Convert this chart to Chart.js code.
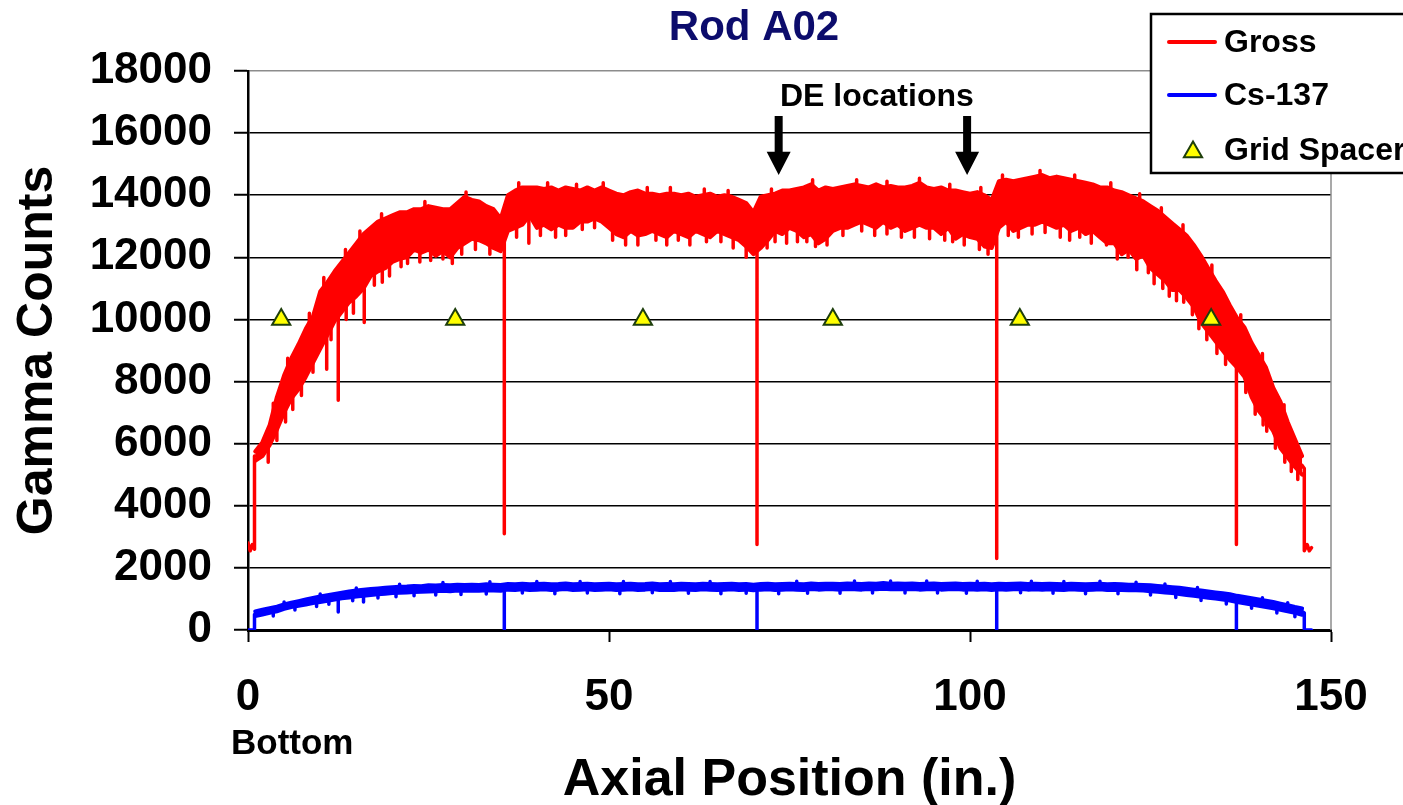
<!DOCTYPE html>
<html>
<head>
<meta charset="utf-8">
<title>Rod A02</title>
<script src="https://cdn.jsdelivr.net/npm/chart.js@4.4.1/dist/chart.umd.min.js"></script>
<style>
  html, body { margin: 0; padding: 0; background: #fff; }
  #wrap { position: relative; width: 1403px; height: 805px; }
</style>
</head>
<body>
<div id="wrap"><canvas id="rodChart"></canvas></div>
<script>
// envelopes are read once per inch, starting at 1 in.
const envStart = 1;

// Gross counts: upper and lower edge of the noisy band, one row per 10 in.
const grossHigh = [
  [5750, 6050, 6600, 7500, 8200, 8750, 9200, 9700, 10100, 10900],
  [11200, 11550, 11850, 12150, 12450, 12750, 12950, 13150, 13250, 13350],
  [13450, 13450, 13550, 13550, 13650, 13600, 13550, 13550, 13750, 13950],
  [13850, 13800, 13650, 13550, 13250, 14000, 14150, 14250, 14250, 14250],
  [14200, 14250, 14150, 14250, 14200, 14150, 14250, 14150, 14250, 14150],
  [14050, 14000, 14100, 14150, 14050, 14050, 14000, 14050, 14050, 14000],
  [14050, 13950, 14000, 14050, 13950, 14000, 13950, 13850, 13750, 13450],
  [13950, 14000, 14050, 14150, 14150, 14200, 14250, 14350, 14150, 14250],
  [14200, 14250, 14300, 14350, 14300, 14250, 14350, 14250, 14300, 14250],
  [14250, 14300, 14400, 14250, 14200, 14250, 14150, 14150, 14100, 14050],
  [14100, 14000, 13850, 14450, 14500, 14450, 14500, 14550, 14600, 14650],
  [14550, 14600, 14550, 14500, 14450, 14400, 14350, 14250, 14250, 14150],
  [14100, 14000, 13900, 13800, 13650, 13500, 13300, 13100, 12900, 12700],
  [12400, 12050, 11650, 11250, 10900, 10450, 10050, 9750, 9250, 8850],
  [8450, 7800, 7350, 6700, 6150, 5600]
];
const grossLow = [
  [5450, 5600, 5950, 6450, 7000, 7450, 7750, 8150, 8600, 9050],
  [9500, 9950, 10250, 10550, 10750, 11000, 11400, 11550, 11650, 11850],
  [11950, 12000, 12250, 12150, 12250, 12050, 12200, 12000, 12300, 12450],
  [12600, 12550, 12450, 12300, 12200, 12850, 12950, 13050, 13350, 12950],
  [13050, 12900, 13050, 12950, 12950, 13150, 13150, 13250, 13150, 12950],
  [12750, 12650, 12850, 12700, 12750, 12850, 12750, 12650, 12850, 12750],
  [12650, 12850, 12750, 12650, 12850, 12750, 12650, 12550, 12350, 12100],
  [12300, 12550, 12850, 12750, 12950, 12850, 12650, 12750, 12450, 12600],
  [12850, 12950, 12950, 13050, 13150, 13050, 12950, 13150, 12950, 13050],
  [12850, 12950, 13050, 12950, 12950, 12750, 12950, 12600, 12750, 12650],
  [12600, 12350, 12300, 12950, 13150, 12850, 12950, 13050, 13050, 13150],
  [13050, 12950, 13050, 12850, 12950, 12750, 12850, 12650, 12450, 12450],
  [12100, 12250, 11950, 12050, 11650, 11450, 11250, 10950, 10950, 10700],
  [10400, 9900, 9600, 9300, 9000, 8700, 8450, 8150, 7500, 7050],
  [6750, 6400, 5850, 5550, 5250, 5000]
];

// deep drops in the gross trace, incl. the four gaps between pellets stacks
const grossSpikePos = [6.2, 9.0, 10.9, 12.5, 16.1, 21.2, 22.1, 28.3, 35.5, 38.9, 42.6, 54.0, 59.6, 63.5, 70.5, 71.9,
    77.4, 80.2, 90.5, 97.6, 103.7, 106.7, 115.2, 118.9, 121.9, 124.7, 126.7, 128.6, 134.2, 136.9, 141.1, 145.4];
const grossSpikeFrom = [7600, 8800, 9600, 10300, 11200, 12100, 12200, 12200, 12600, 13200, 13100, 12900, 12900, 12900, 12300, 12600,
    12800, 12800, 13100, 12900, 13000, 13100, 13100, 12750, 12400, 12100, 11500, 11100, 9400, 9300, 6900, 5400];
const grossSpikeTo = [7100, 8300, 8400, 7400, 9900, 11700, 11800, 11800, 3100, 12450, 12650, 12400, 12550, 12500, 2750, 12300,
    12500, 12400, 12650, 12500, 2300, 12650, 12650, 12400, 12000, 11500, 11000, 10600, 8900, 2750, 6400, 4850];

// small noise drops below the band
const grossDropPos = [2.8, 4.0, 5.2, 7.4, 11.5, 13.6, 14.6, 17.5, 18.6, 19.6, 23.8, 25.3, 27.0, 29.6, 31.5, 33.5,
    37.2, 40.5, 44.0, 46.3, 48.0, 50.5, 52.3, 56.5, 58.0, 61.2, 65.5, 67.2, 69.0, 73.0, 74.6, 76.1,
    78.6, 82.4, 85.0, 86.8, 88.5, 92.3, 94.4, 96.5, 99.2, 101.3, 102.5, 105.3, 108.6, 110.4, 112.5, 113.8,
    116.8, 120.4, 123.1, 125.5, 127.6, 129.6, 130.8, 131.7, 132.8, 135.4, 138.2, 139.5, 140.6, 142.3, 143.6, 144.5];
const grossDropFrom = [6050, 6600, 7250, 8050, 9850, 10550, 10800, 11600, 11750, 11900, 12300, 12350, 12350, 12550, 12700, 12500,
    13100, 13150, 13100, 13300, 13400, 13000, 12850, 12950, 12800, 12850, 12950, 12800, 12500, 13000, 12950, 13000,
    12850, 13100, 13300, 13100, 13200, 13100, 13100, 13000, 12850, 12700, 12500, 13200, 13200, 13250, 13150, 13050,
    13000, 12450, 12100, 11700, 11250, 11050, 10600, 10200, 9800, 9050, 8200, 7450, 7100, 6400, 5900, 5550];
const grossDropTo = [5400, 6100, 6700, 7550, 9350, 10000, 10200, 11100, 11200, 11400, 11850, 11900, 11950, 12100, 12250, 12100,
    12650, 12700, 12700, 12900, 12950, 12550, 12400, 12550, 12400, 12400, 12500, 12300, 12000, 12500, 12450, 12500,
    12350, 12700, 12850, 12700, 12750, 12650, 12600, 12550, 12400, 12250, 12100, 12700, 12750, 12800, 12650, 12550,
    12450, 11950, 11600, 11150, 10750, 10550, 10150, 9700, 9350, 8550, 7650, 6950, 6600, 5850, 5400, 5100];

// small noise peaks above the band
const grossBumpPos = [3.5, 5.5, 8.5, 10.5, 13.5, 15.5, 18.5, 24.5, 30.2, 37.5, 41.5, 45.5, 49.2, 55.3, 58.5, 63.2, 66.5, 72.5,
    78.2, 84.3, 88.5, 93.0, 97.2, 101.5, 104.5, 109.7, 114.5, 119.5, 123.5, 126.5, 129.5, 133.5, 137.5, 140.5, 143.5];
const grossBumpFrom = [6900, 8300, 9750, 10900, 11850, 12450, 13050, 13450, 13800, 14050, 14100, 14050, 14100, 13900, 13900, 13900, 13850, 13900,
    14150, 14200, 14150, 14250, 14000, 13900, 14350, 14500, 14350, 14050, 13700, 13250, 12650, 11300, 9750, 8500, 6900];
const grossBumpTo = [7300, 8750, 10200, 11350, 12250, 12850, 13400, 13800, 14100, 14400, 14400, 14350, 14400, 14250, 14250, 14200, 14150, 14200,
    14500, 14500, 14450, 14550, 14350, 14250, 14650, 14800, 14650, 14400, 14050, 13600, 13050, 11750, 10150, 8900, 7250];

// rod ends (below the band)
const grossFootStartX = [0, 0.3, 0.6, 0.9, 0.9, 1.0];
const grossFootStartY = [2800, 2550, 2750, 2600, 5600, 5600];
const grossFootEndX = [146.0, 146.3, 146.3, 146.7, 147.0, 147.3];
const grossFootEndY = [5300, 5200, 2550, 2750, 2550, 2650];

// Cs-137 counts, same layout
const csHigh = [
  [600, 650, 700, 750, 820, 880, 930, 980, 1030, 1080],
  [1120, 1160, 1200, 1240, 1270, 1300, 1320, 1340, 1360, 1380],
  [1390, 1400, 1420, 1410, 1440, 1430, 1450, 1440, 1460, 1450],
  [1460, 1450, 1470, 1460, 1450, 1480, 1470, 1490, 1470, 1480],
  [1490, 1470, 1480, 1500, 1470, 1480, 1490, 1470, 1480, 1490],
  [1470, 1480, 1490, 1470, 1480, 1500, 1470, 1480, 1470, 1490],
  [1480, 1470, 1490, 1480, 1470, 1480, 1490, 1470, 1480, 1460],
  [1480, 1490, 1470, 1480, 1490, 1480, 1470, 1500, 1480, 1490],
  [1490, 1480, 1500, 1490, 1480, 1500, 1490, 1510, 1490, 1500],
  [1490, 1500, 1480, 1490, 1500, 1480, 1490, 1500, 1480, 1490],
  [1480, 1490, 1470, 1490, 1480, 1490, 1500, 1480, 1490, 1480],
  [1490, 1480, 1470, 1490, 1480, 1470, 1480, 1490, 1470, 1480],
  [1470, 1460, 1460, 1450, 1440, 1420, 1400, 1380, 1360, 1330],
  [1300, 1270, 1240, 1210, 1180, 1150, 1100, 1060, 1020, 980],
  [940, 900, 850, 800, 740, 690]
];
const csLow = [
  [450, 500, 550, 600, 680, 740, 780, 820, 870, 900],
  [940, 980, 1020, 1050, 1080, 1100, 1130, 1150, 1170, 1190],
  [1200, 1210, 1220, 1230, 1240, 1250, 1260, 1250, 1270, 1260],
  [1270, 1260, 1280, 1270, 1260, 1300, 1290, 1310, 1290, 1300],
  [1310, 1290, 1300, 1320, 1290, 1300, 1310, 1290, 1300, 1310],
  [1290, 1300, 1310, 1290, 1300, 1320, 1290, 1300, 1290, 1310],
  [1300, 1290, 1310, 1300, 1290, 1300, 1310, 1290, 1300, 1280],
  [1300, 1310, 1290, 1300, 1310, 1300, 1290, 1320, 1300, 1310],
  [1310, 1300, 1320, 1310, 1300, 1320, 1310, 1330, 1310, 1320],
  [1310, 1320, 1300, 1310, 1320, 1300, 1310, 1320, 1300, 1310],
  [1300, 1310, 1290, 1310, 1300, 1310, 1320, 1300, 1310, 1300],
  [1310, 1300, 1290, 1310, 1300, 1290, 1300, 1310, 1290, 1300],
  [1290, 1280, 1280, 1270, 1250, 1230, 1210, 1190, 1160, 1130],
  [1100, 1070, 1040, 1010, 980, 950, 900, 860, 820, 780],
  [740, 700, 650, 600, 550, 490]
];
const csSpikePos = [12.5, 16.0, 35.5, 70.5, 103.7, 136.9];
const csSpikeFrom = [1050, 1150, 1350, 1350, 1350, 1000];
const csSpikeTo = [580, 900, 0, 0, 0, 0];

const csDropPos = [3.5, 6.5, 9.5, 11.2, 14.5, 18.0, 20.5, 23.0, 26.0, 29.5, 33.0, 38.0, 42.5, 47.0, 51.5, 56.0, 61.0, 65.5, 69.0,
    73.5, 77.5, 82.0, 86.5, 91.0, 95.5, 99.5, 107.0, 111.5, 116.0, 120.5, 125.0, 128.5, 132.0, 135.5, 139.0, 142.5, 145.0];
const csDropFrom = [640, 820, 950, 1010, 1120, 1210, 1250, 1280, 1310, 1320, 1340, 1370, 1350, 1370, 1350, 1380, 1360, 1350, 1360,
    1350, 1360, 1360, 1370, 1370, 1370, 1360, 1380, 1360, 1350, 1350, 1310, 1230, 1130, 1020, 880, 730, 610];
const csDropTo = [450, 640, 760, 830, 940, 1030, 1070, 1100, 1130, 1140, 1160, 1190, 1170, 1190, 1170, 1200, 1180, 1170, 1180,
    1170, 1180, 1180, 1190, 1190, 1190, 1180, 1200, 1180, 1170, 1170, 1130, 1050, 950, 840, 700, 550, 430];

const csBumpPos = [5, 10, 15, 21, 27, 33.5, 40, 46, 52, 58.5, 64, 76, 84, 89, 94, 101, 108.5, 113, 118, 123, 127, 131.5, 140.5, 144];
const csBumpFrom = [760, 1020, 1210, 1330, 1390, 1400, 1420, 1420, 1420, 1410, 1420, 1420, 1430, 1430, 1430, 1420, 1420, 1410, 1430, 1400, 1340, 1230, 900, 740];
const csBumpTo = [900, 1160, 1350, 1470, 1530, 1550, 1560, 1560, 1560, 1560, 1560, 1570, 1580, 1580, 1580, 1570, 1570, 1560, 1570, 1540, 1480, 1370, 1040, 880];

const csFootStartX = [0, 0.9, 0.9, 1.0];
const csFootStartY = [0, 0, 500, 520];
const csFootEndX = [146.0, 146.3, 146.3, 147.3];
const csFootEndY = [600, 550, 0, 0];

// grid spacer positions (in.) and the level they are plotted at
const spacerPos = [4.6, 28.7, 54.7, 81.0, 106.9, 133.4];
const spacerCounts = [10000, 10000, 10000, 10000, 10000, 10000];

// DE location arrows
const deArrowPos = [73.5, 99.6];
const deArrowTop = 16550, deArrowNeck = 15400, deArrowTip = 14650;
const deLabelX = 87.1, deLabelY = 17150;

const xTicks = [0, 50, 100, 150];
const yTicks = [0, 2000, 4000, 6000, 8000, 10000, 12000, 14000, 16000, 18000];

const FONT = '"Liberation Sans", Arial, Helvetica, sans-serif';

function envelope(rows) {
    return rows.flat().map((v, i) => ({ x: envStart + i, y: v }));
}

// rod-end feet plus short vertical strokes, each stroke split off by a gap
function trace(startX, startY, strokes, endX, endY) {
    const pts = startX.map((x, i) => ({ x: x, y: startY[i] }));
    pts.push({ x: startX[startX.length - 1], y: null });
    strokes.forEach(([pos, from, to]) => {
        pos.forEach((p, i) => {
            pts.push({ x: p, y: from[i] }, { x: p, y: to[i] }, { x: p, y: null });
        });
    });
    endX.forEach((x, i) => pts.push({ x: x, y: endY[i] }));
    return pts;
}

const spacerPoints = spacerPos.map((p, i) => ({ x: p, y: spacerCounts[i] }));

const lineStyle = {
    borderWidth: 4,
    borderJoinStyle: 'round',
    borderCapStyle: 'round',
    pointRadius: 0,
    tension: 0,
    spanGaps: false,
    order: 1
};

const decorPlugin = {
    id: 'decor',
    beforeDatasetsDraw(chart) {
        const { ctx, chartArea: a } = chart;
        ctx.save();
        ctx.strokeStyle = '#8c8c8c';
        ctx.lineWidth = 1.5;
        ctx.beginPath();
        ctx.moveTo(a.right, a.top);
        ctx.lineTo(a.right, a.bottom);
        ctx.stroke();
        ctx.restore();
    },
    afterDraw(chart) {
        const { ctx, chartArea: a, scales: { x, y } } = chart;
        ctx.save();

        // title
        ctx.fillStyle = '#0c0c6c';
        ctx.font = 'bold 42px ' + FONT;
        ctx.textAlign = 'center';
        ctx.textBaseline = 'middle';
        ctx.fillText('Rod A02', 754, 28);

        // DE locations label and arrows
        ctx.fillStyle = '#000';
        ctx.font = 'bold 32px ' + FONT;
        ctx.fillText('DE locations', x.getPixelForValue(deLabelX), y.getPixelForValue(deLabelY));
        deArrowPos.forEach(pos => {
            const px = x.getPixelForValue(pos);
            const top = y.getPixelForValue(deArrowTop);
            const neck = y.getPixelForValue(deArrowNeck);
            const tip = y.getPixelForValue(deArrowTip);
            ctx.beginPath();
            ctx.moveTo(px - 4, top);
            ctx.lineTo(px + 4, top);
            ctx.lineTo(px + 4, neck);
            ctx.lineTo(px + 12, neck);
            ctx.lineTo(px, tip);
            ctx.lineTo(px - 12, neck);
            ctx.lineTo(px - 4, neck);
            ctx.closePath();
            ctx.fill();
        });

        // "Bottom" under the zero tick
        ctx.font = 'bold 35px ' + FONT;
        ctx.textAlign = 'left';
        ctx.fillText('Bottom', x.getPixelForValue(0) - 17, a.bottom + 114);

        // legend box
        const box = { left: 1151, top: 14, bottom: 173 };
        const boxW = chart.width - box.left + 10;
        ctx.fillStyle = '#fff';
        ctx.fillRect(box.left, box.top, boxW, box.bottom - box.top);
        ctx.strokeStyle = '#000';
        ctx.lineWidth = 2.5;
        ctx.strokeRect(box.left, box.top, boxW, box.bottom - box.top);

        const rowY = [42, 95, 150];
        ctx.font = 'bold 32px ' + FONT;
        ctx.textBaseline = 'middle';
        chart.data.datasets.filter(ds => !ds.label.startsWith('_')).forEach((ds, i) => {
            const ry = rowY[i];
            if (ds.showLine === false) {
                ctx.fillStyle = ds.pointBackgroundColor;
                ctx.strokeStyle = ds.pointBorderColor;
                ctx.lineWidth = ds.pointBorderWidth;
                Chart.helpers.drawPoint(ctx, { pointStyle: 'triangle', radius: 10.5, borderWidth: ds.pointBorderWidth, rotation: 0 }, 1193, ry + 2);
            } else {
                ctx.strokeStyle = ds.borderColor;
                ctx.lineWidth = 4;
                ctx.lineCap = 'round';
                ctx.beginPath();
                ctx.moveTo(1169, ry);
                ctx.lineTo(1215, ry);
                ctx.stroke();
            }
            ctx.fillStyle = '#000';
            ctx.fillText(ds.label, 1224, ry + 1);
        });

        ctx.restore();
    }
};

const grossStrokes = [
    [grossSpikePos, grossSpikeFrom, grossSpikeTo],
    [grossDropPos, grossDropFrom, grossDropTo],
    [grossBumpPos, grossBumpFrom, grossBumpTo]
];
const csStrokes = [
    [csSpikePos, csSpikeFrom, csSpikeTo],
    [csDropPos, csDropFrom, csDropTo],
    [csBumpPos, csBumpFrom, csBumpTo]
];

const ctx = document.getElementById('rodChart').getContext('2d');
new Chart(ctx, {
    type: 'line',
    data: {
        datasets: [
            { ...lineStyle, label: 'Gross', data: envelope(grossHigh), borderColor: '#ff0000', backgroundColor: '#ff0000', fill: '+1' },
            { ...lineStyle, label: '_grossLow', data: envelope(grossLow), borderColor: '#ff0000' },
            {
                ...lineStyle, label: '_grossTrace', borderColor: '#ff0000', borderWidth: 3.5,
                data: trace(grossFootStartX, grossFootStartY, grossStrokes, grossFootEndX, grossFootEndY)
            },
            { ...lineStyle, label: 'Cs-137', data: envelope(csHigh), borderColor: '#0000ff', backgroundColor: '#0000ff', fill: '+1' },
            { ...lineStyle, label: '_csLow', data: envelope(csLow), borderColor: '#0000ff' },
            {
                ...lineStyle, label: '_csTrace', borderColor: '#0000ff', borderWidth: 3.5,
                data: trace(csFootStartX, csFootStartY, csStrokes, csFootEndX, csFootEndY)
            },
            {
                label: 'Grid Spacer',
                data: spacerPoints,
                showLine: false,
                pointStyle: 'triangle',
                pointRadius: 10.5,
                pointBackgroundColor: '#ffff00',
                pointBorderColor: '#1e3f0c',
                pointBorderWidth: 2,
                order: 0
            }
        ]
    },
    options: {
        responsive: true,
        maintainAspectRatio: false,
        animation: false,
        events: [],
        layout: { padding: { left: 0, top: 71, right: 72, bottom: 0 } },
        plugins: {
            legend: { display: false },
            title: { display: false },
            tooltip: { enabled: false }
        },
        scales: {
            x: {
                type: 'linear',
                min: 0,
                max: 150,
                afterBuildTicks: s => { s.ticks = xTicks.map(v => ({ value: v })); },
                afterFit: s => { s.height = 175; },
                border: { display: true, color: '#000', width: 3 },
                grid: { drawOnChartArea: false, drawTicks: true, tickLength: 12, tickColor: '#000', tickWidth: 2 },
                ticks: {
                    color: '#000',
                    padding: 29,
                    maxRotation: 0,
                    font: { family: FONT, size: 44, weight: 'bold' },
                    callback: v => String(v)
                },
                title: {
                    display: true,
                    text: 'Axial Position (in.)',
                    color: '#000',
                    padding: 0,
                    font: { family: FONT, size: 52, weight: 'bold', lineHeight: 0.92 }
                }
            },
            y: {
                min: 0,
                max: 18000,
                afterBuildTicks: s => { s.ticks = yTicks.map(v => ({ value: v })); },
                afterFit: s => { s.width = 248; },
                border: { display: true, color: '#000', width: 2.5 },
                grid: {
                    color: c => (c.tick && c.tick.value === 18000 ? '#8c8c8c' : '#000'),
                    lineWidth: 1.5,
                    tickLength: 14,
                    tickColor: '#000',
                    tickWidth: 2
                },
                ticks: {
                    color: '#000',
                    padding: 22,
                    font: { family: FONT, size: 44, weight: 'bold' },
                    callback: v => String(v)
                },
                title: {
                    display: true,
                    text: 'Gamma Counts',
                    color: '#000',
                    padding: { top: 8, bottom: 0 },
                    font: { family: FONT, size: 50, weight: 'bold', lineHeight: 1.2 }
                }
            }
        }
    },
    plugins: [decorPlugin]
});
</script>
</body>
</html>
